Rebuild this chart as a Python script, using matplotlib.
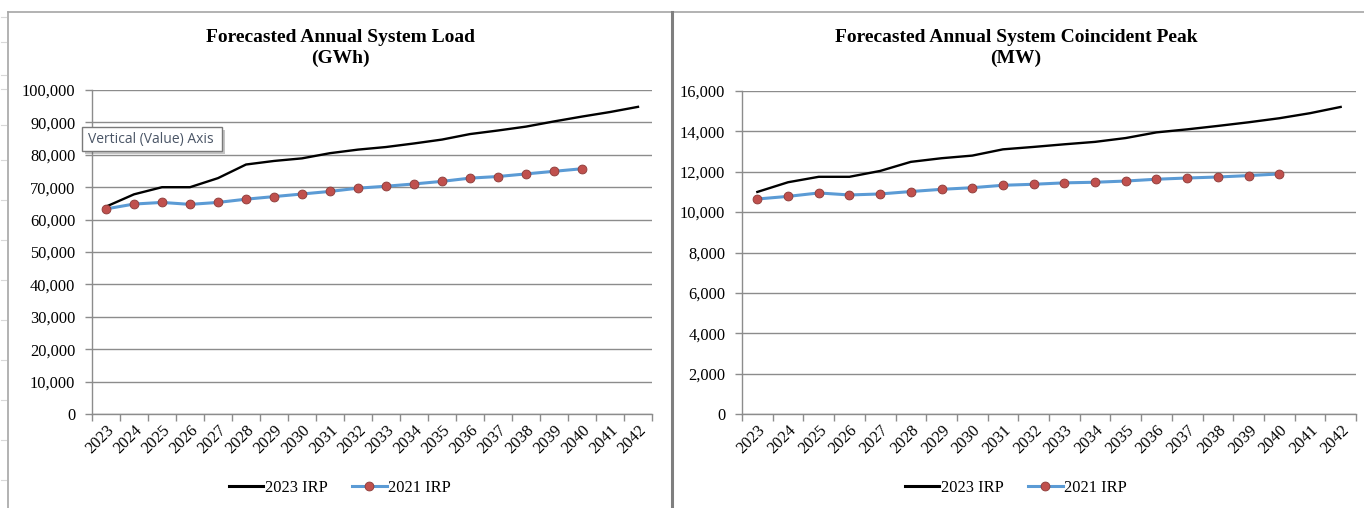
import matplotlib
matplotlib.use("Agg")
import matplotlib.pyplot as plt
from matplotlib.lines import Line2D
from matplotlib.patches import Rectangle
from matplotlib.ticker import FuncFormatter, FixedLocator, NullFormatter
import numpy as np

# Forecast years
years = [str(y) for y in range(2023, 2043)]

# Annual system load (GWh)
load_2023_irp = [64000, 67800, 70000, 70000, 72800, 77000, 78100, 78900, 80500,
                 81600, 82400, 83500, 84700, 86400, 87500, 88700, 90300, 91800,
                 93200, 94800]
load_2021_irp = [63300, 64800, 65300, 64700, 65300, 66300, 67100, 67900, 68700,
                 69700, 70300, 71000, 71800, 72800, 73300, 74100, 74900, 75700]

# Annual system coincident peak (MW)
peak_2023_irp = [11000, 11480, 11750, 11750, 12040, 12490, 12670, 12800, 13110,
                 13230, 13360, 13480, 13670, 13950, 14100, 14270, 14450, 14650,
                 14900, 15210]
peak_2021_irp = [10650, 10780, 10950, 10850, 10900, 11020, 11130, 11210, 11330,
                 11380, 11450, 11480, 11540, 11630, 11690, 11740, 11810, 11890]

series_names = ["2023 IRP", "2021 IRP"]

W, H = 1364, 508
SERIF = ["Liberation Serif", "DejaVu Serif"]
GRID = "#8c8c8c"
BLUE = "#5b9bd5"
RED = "#c0504d"
TICK_FS = 11.8

fig = plt.figure(figsize=(W / 100, H / 100), dpi=100)
fig.patch.set_facecolor("white")


def px_axes(x0, y0, x1, y1):
    return fig.add_axes([x0 / W, 1 - y1 / H, (x1 - x0) / W, (y1 - y0) / H])


def draw_panel(ax, new, old, ymax, ystep, title_lines, cx):
    x_new = np.arange(len(new))
    x_old = np.arange(len(old))
    ax.plot(x_new, new, color="black", lw=1.7, zorder=3, solid_joinstyle="round")
    ax.plot(x_old, old, color=BLUE, lw=2.2, zorder=3,
            marker="o", markersize=6.4, markerfacecolor=RED,
            markeredgecolor="#8a3a38", markeredgewidth=0.6)
    ax.set_xlim(-0.5, len(years) - 0.5)
    ax.set_ylim(0, ymax)
    ax.set_yticks(np.arange(0, ymax + 1, ystep))
    ax.yaxis.set_major_formatter(FuncFormatter(lambda v, p: f"{int(v):,}"))
    ax.yaxis.grid(True, color=GRID, lw=1.0)
    ax.set_axisbelow(True)
    # category ticks sit between categories, labels at the centres
    ax.xaxis.set_major_locator(FixedLocator(np.arange(-0.5, len(years), 1.0)))
    ax.xaxis.set_major_formatter(NullFormatter())
    ax.xaxis.set_minor_locator(FixedLocator(np.arange(len(years))))
    ax.set_xticklabels(years, minor=True, rotation=45, ha="right",
                       rotation_mode="anchor", fontfamily=SERIF, fontsize=TICK_FS)
    ax.tick_params(axis="x", which="major", length=5, color=GRID, width=1)
    ax.tick_params(axis="x", which="minor", length=0, pad=6)
    ax.tick_params(axis="y", length=5, color=GRID, width=1, pad=7)
    for lab in ax.get_yticklabels():
        lab.set_fontfamily(SERIF)
        lab.set_fontsize(TICK_FS)
    for s in ["top", "right"]:
        ax.spines[s].set_visible(False)
    for s in ["left", "bottom"]:
        ax.spines[s].set_color(GRID)
        ax.spines[s].set_linewidth(1.0)
    fig.text(cx / W, 1 - 48 / H, "\n".join(title_lines), ha="center", va="center",
             fontfamily=SERIF, fontweight="bold", fontsize=14, linespacing=1.25)
    handles = [Line2D([], [], color="black", lw=2.2),
               Line2D([], [], color=BLUE, lw=2.2, marker="o", markersize=6.4,
                      markerfacecolor=RED, markeredgecolor="#8a3a38",
                      markeredgewidth=0.6)]
    fig.legend(handles, series_names, loc="center", bbox_to_anchor=(cx / W, 1 - 488 / H),
               ncol=2, frameon=False, prop={"family": SERIF, "size": TICK_FS},
               handlelength=2.1, handletextpad=0.1, columnspacing=1.5)


ax1 = px_axes(92, 90, 652, 414)
draw_panel(ax1, load_2023_irp, load_2021_irp, 100000, 10000,
           ["Forecasted Annual System Load", "(GWh)"], 340)

ax2 = px_axes(742, 91, 1356, 414)
draw_panel(ax2, peak_2023_irp, peak_2021_irp, 16000, 2000,
           ["Forecasted Annual System Coincident Peak", "(MW)"], 1016)

# panel frames
frame = fig.add_axes([0, 0, 1, 1], zorder=-1)
frame.set_xlim(0, W)
frame.set_ylim(H, 0)
frame.axis("off")
frame.plot([8, W], [12, 12], color="#a6a6a6", lw=1.2)
frame.plot([8, 8], [12, H], color="#a6a6a6", lw=1.2)
frame.plot([672, 672], [12, H], color="#7f7f7f", lw=2.2)
for yy in [17, 42, 75, 89, 125, 160, 200, 240, 280, 320, 360, 400, 440, 480]:
    frame.plot([1, 6], [yy, yy], color="#d8d8d8", lw=0.8)

# hover tooltip over the value axis
overlay = fig.add_axes([0, 0, 1, 1], zorder=10)
overlay.set_xlim(0, W)
overlay.set_ylim(H, 0)
overlay.axis("off")
overlay.add_patch(Rectangle((85, 130), 140, 24, facecolor="#5a5a5a", alpha=0.35,
                            edgecolor="none"))
overlay.add_patch(Rectangle((82, 127), 140, 24, facecolor="white",
                            edgecolor="#7a7a7a", lw=1.0))
overlay.text(88, 139.5, "Vertical (Value) Axis", ha="left", va="center",
             fontfamily=["Open Sans", "DejaVu Sans"], fontsize=10, color="#4a5566")

fig.savefig("out.png", dpi=100)
